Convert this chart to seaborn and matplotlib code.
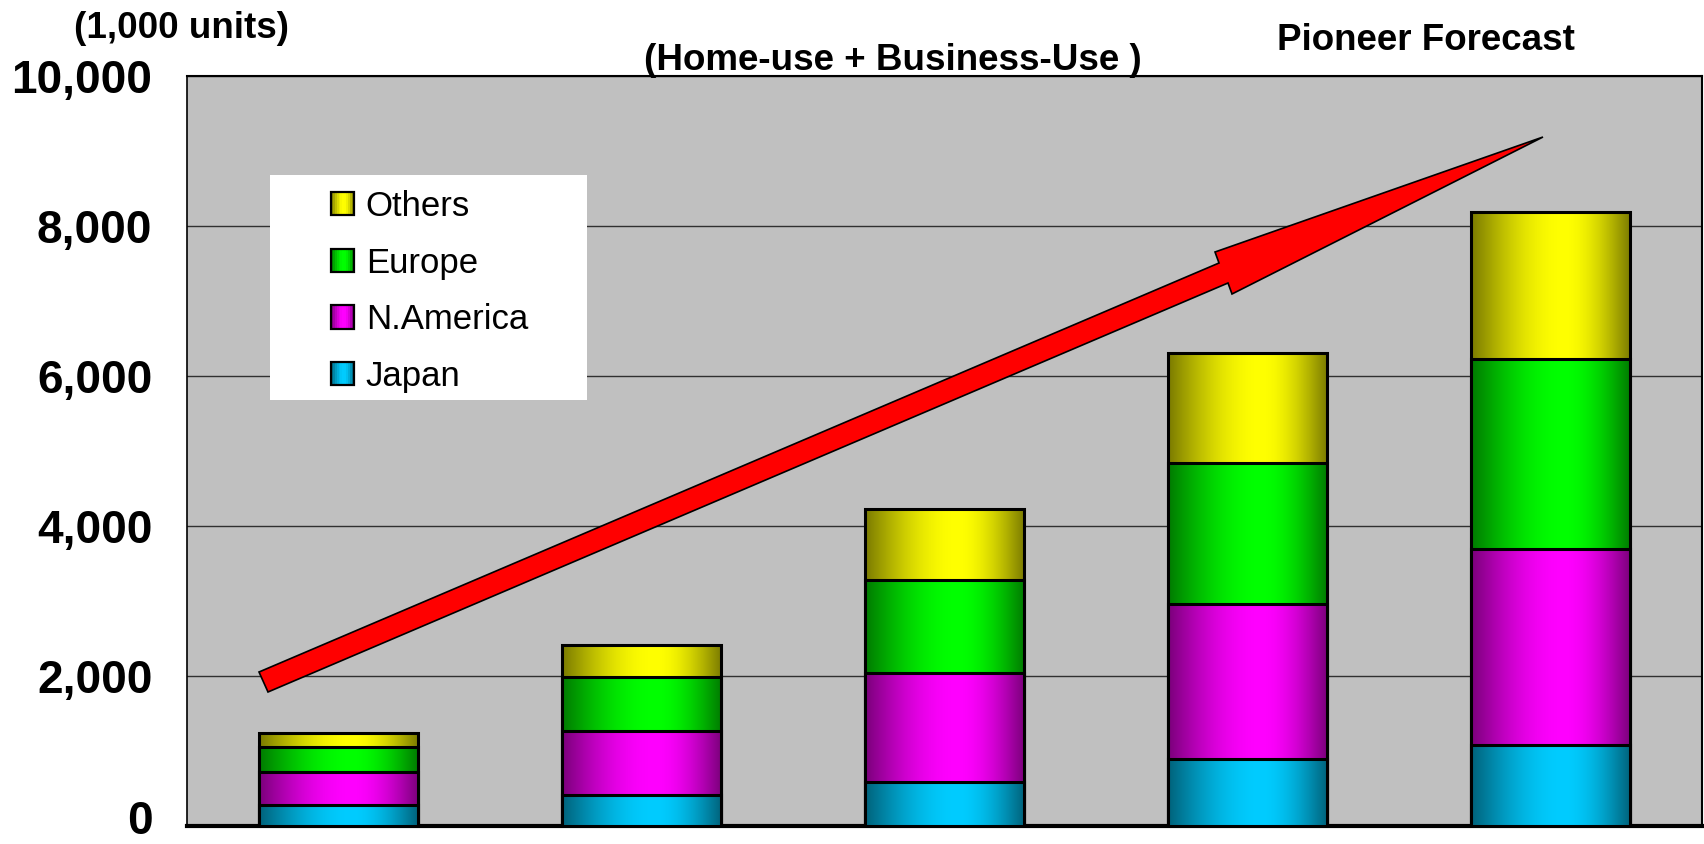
import numpy as np
import matplotlib
matplotlib.use("Agg")
import matplotlib.pyplot as plt
import matplotlib.transforms as mtrans
import seaborn as sns
from matplotlib.patches import Polygon, Rectangle, Patch
from matplotlib.legend_handler import HandlerBase

# ---- data (1,000 units) ----
periods = ["P1", "P2", "P3", "P4", "P5"]
japan = [280, 420, 590, 900, 1080]
n_america = [440, 850, 1450, 2060, 2620]
europe = [330, 720, 1240, 1880, 2530]
others = [190, 420, 940, 1470, 1950]
series_names = ["Japan", "N.America", "Europe", "Others"]
series_colors = ["#00CCFF", "#FF00FF", "#00FF00", "#FFFF00"]
yticks = [0, 2000, 4000, 6000, 8000, 10000]

sns.set_theme(style="white")
plt.rcParams['font.family'] = ['Liberation Sans', 'DejaVu Sans']
plt.rcParams['text.color'] = 'black'

W, H = 1704, 844
fig = plt.figure(figsize=(W / 100, H / 100), dpi=100)
AX_L, AX_R, AX_T, AX_B = 187, 1702, 76, 826
ax = fig.add_axes([AX_L / W, 1 - AX_B / H, (AX_R - AX_L) / W, (AX_B - AX_T) / H])
ax.set_facecolor('#C0C0C0')

stack = np.array([japan, n_america, europe, others], dtype=float)
cum = np.cumsum(stack, axis=0)

# horizontal shading profile for cylinder-like bars
t = np.linspace(0, 1, 256)
peak = 0.58
f = np.where(t < peak, np.sin(0.5 * np.pi * t / peak),
             np.sin(0.5 * np.pi * (1 - t) / (1 - peak)))
shade = 0.48 + 0.52 * f

z = 2
for i in reversed(range(len(series_names))):
    col = np.array(matplotlib.colors.to_rgb(series_colors[i]))
    grad = (shade[:, None] * col[None, :])[None, :, :]
    n0 = len(ax.patches)
    sns.barplot(x=periods, y=cum[i], color=series_colors[i], width=0.528,
                saturation=1, ax=ax, zorder=z + 1)
    for p in ax.patches[n0:]:
        x0, y0 = p.get_x(), p.get_y()
        w, h = p.get_width(), p.get_height()
        im = ax.imshow(grad, extent=[x0, x0 + w, y0, y0 + h], aspect='auto',
                       zorder=z, interpolation='bilinear')
        im.set_clip_path(p)
        p.set_facecolor('none')
        p.set_edgecolor('black')
        p.set_linewidth(2.2)
        p.set_zorder(z + 1)
    z += 2

ax.set_xlim(-0.5, 4.5)
ax.set_ylim(0, 10000)
ax.set_aspect('auto')

# grid and ticks
ax.set_yticks(yticks)
ax.set_yticklabels([f"{v:,}" for v in yticks], fontsize=33, fontweight='bold')
ax.yaxis.grid(True, color='#303030', lw=1.0)
ax.xaxis.grid(False)
ax.set_axisbelow(True)
ax.set_xticks([])
ax.set_xlabel('')
ax.set_ylabel('')
ax.tick_params(axis='y', length=0, pad=25, colors='black')
# nudge the bottom "0" label slightly up so it stays inside the figure
lab0 = ax.get_yticklabels()[0]
lab0.set_transform(lab0.get_transform() +
                   mtrans.ScaledTranslation(0, 9 / 100, fig.dpi_scale_trans))

for side, lw in (("bottom", 3.0), ("top", 1.5), ("left", 1.2), ("right", 1.5)):
    ax.spines[side].set_visible(True)
    ax.spines[side].set_color('black')
    ax.spines[side].set_linewidth(lw)

# red arrow (decoration), pixel outline converted to axes fraction
def to_ax(px, py):
    return ((px - AX_L) / (AX_R - AX_L), (AX_B - py) / (AX_B - AX_T))

arrow_px = [(259, 672), (1219, 263), (1215, 252), (1543, 137),
            (1232, 294), (1228, 283), (268, 692)]
arrow = Polygon([to_ax(*p) for p in arrow_px], closed=True, transform=ax.transAxes,
                facecolor='#FF0000', edgecolor='black', lw=1.2, zorder=20)
ax.add_patch(arrow)


# legend handle with the same shaded look as the bars
class ShadedHandler(HandlerBase):
    def create_artists(self, legend, orig_handle, xdescent, ydescent, width, height,
                       fontsize, trans):
        col = np.array(matplotlib.colors.to_rgb(orig_handle.get_facecolor()))
        n = 12
        arts = []
        for k in range(n):
            tt = (k + 0.5) / n
            ff = np.sin(0.5 * np.pi * tt / peak) if tt < peak else \
                np.sin(0.5 * np.pi * (1 - tt) / (1 - peak))
            c = col * (0.48 + 0.52 * ff)
            r = Rectangle((-xdescent + k * width / n, -ydescent), width / n + 0.3, height,
                          facecolor=c, edgecolor='none', transform=trans)
            arts.append(r)
        arts.append(Rectangle((-xdescent, -ydescent), width, height, facecolor='none',
                              edgecolor='black', lw=1.6, transform=trans))
        return arts


# legend box
bx0, by0 = to_ax(270, 400)
bx1, by1 = to_ax(587, 175)
ax.add_patch(Rectangle((bx0, by0), bx1 - bx0, by1 - by0, transform=ax.transAxes,
                       facecolor='white', edgecolor='none', zorder=21))
handles = [Patch(facecolor=series_colors[i], edgecolor='black', lw=1.5, label=series_names[i])
           for i in reversed(range(len(series_names)))]
lx, ly = to_ax(331, 190)
leg = ax.legend(handles=handles, loc='upper left', bbox_to_anchor=(lx, ly),
                frameon=False, fontsize=25, handlelength=0.65, handleheight=0.65,
                handletextpad=0.35, labelspacing=0.68, borderpad=0, borderaxespad=0,
                handler_map={Patch: ShadedHandler()})
leg.set_zorder(22)

# titles / annotations
fig.text(181 / W, 1 - 29 / H, "(1,000 units)", fontsize=26.5, fontweight='bold',
         ha='center', va='center')
fig.text(893 / W, 1 - 60 / H, "(Home-use + Business-Use )", fontsize=26.5,
         fontweight='bold', ha='center', va='center')
fig.text(1426 / W, 1 - 41 / H, "Pioneer Forecast", fontsize=26.5, fontweight='bold',
         ha='center', va='center')

fig.savefig('out.png', dpi=100)
